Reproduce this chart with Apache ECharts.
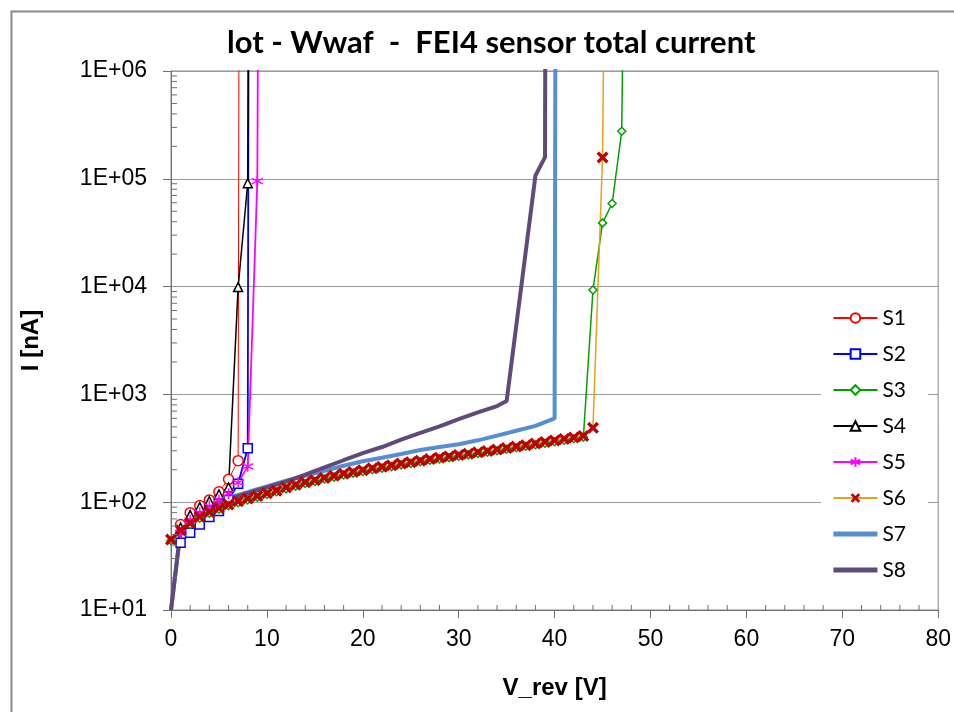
<!DOCTYPE html>
<html>
<head>
<meta charset="utf-8">
<title>FEI4 sensor total current</title>
<script src="https://cdn.jsdelivr.net/npm/echarts@6/dist/echarts.min.js"></script>
<style>
  html, body { margin: 0; padding: 0; background: #fff; }
  #chart { width: 954px; height: 712px; }
</style>
</head>
<body>
<div id="chart"></div>
<script>
// [V_rev (V), I (nA)]; values above 1E+06 are breakdown, clipped by the axis
const s1 = [[1, 62], [2, 80], [3, 93], [4, 105], [5, 125], [6, 163], [7, 243], [7.1, 1e7]];
const s2 = [[1, 42], [2, 52], [3, 62], [4, 73], [5, 83], [6, 105], [7, 148], [8, 316], [8.1, 1e7]];
const s3 = [[0, 44], [1, 53], [2, 62], [3, 71], [4, 79], [5, 86], [6, 93], [7, 99], [8, 105], [9, 111],
  [10, 118], [11, 125], [12, 133], [13, 141], [14, 149], [15, 156], [16, 164], [17, 171], [18, 179], [19, 186],
  [20, 193], [21, 200], [22, 207], [23, 214], [24, 222], [25, 229], [26, 237], [27, 245], [28, 252], [29, 259],
  [30, 267], [31, 275], [32, 283], [33, 291], [34, 300], [35, 310], [36, 320], [37, 330], [38, 341], [39, 352],
  [40, 364], [41, 376], [42, 388], [43, 402], [44, 9300], [45, 39000], [46, 59000], [47, 276000], [47.2, 1e7]];
const s4 = [[1, 58], [2, 76], [3, 90], [4, 102], [5, 118], [6, 137], [7, 9900], [8, 91000], [8.1, 1e7]];
const s5 = [[1, 52], [2, 68], [3, 80], [4, 92], [5, 105], [6, 120], [7, 152], [8, 215], [9, 95000], [9.1, 1e7]];
const s6 = [[0, 45], [1, 55], [2, 64], [3, 73], [4, 81], [5, 88], [6, 95], [7, 102], [8, 108], [9, 114],
  [10, 121], [11, 128], [12, 137], [13, 145], [14, 153], [15, 160], [16, 168], [17, 176], [18, 184], [19, 191],
  [20, 198], [21, 206], [22, 213], [23, 220], [24, 228], [25, 235], [26, 243], [27, 251], [28, 259], [29, 266],
  [30, 274], [31, 282], [32, 290], [33, 298], [34, 308], [35, 318], [36, 328], [37, 338], [38, 350], [39, 362],
  [40, 374], [41, 386], [42, 398], [43, 412], [44, 490], [45, 158000], [45.2, 1e7]];
const s7 = [[0, 10], [1, 55], [2, 70], [3, 82], [4, 92], [5, 101], [6, 109], [7, 117], [8, 124], [9, 132],
  [10, 140], [12, 158], [14, 176], [16, 196], [18, 218], [20, 240], [22, 258], [24, 280], [26, 305], [28, 325],
  [30, 345], [32, 375], [34, 415], [36, 460], [38, 510], [40, 600], [40.1, 1e7]];
const s8 = [[0, 10], [1, 55], [2, 70], [3, 82], [4, 91], [5, 99], [6, 107], [7, 114], [8, 121], [9, 129],
  [10, 137], [12, 155], [14, 180], [16, 210], [18, 245], [20, 285], [22, 325], [24, 380], [26, 440], [28, 505],
  [30, 590], [32, 680], [34, 780], [35, 870], [38, 107000], [39, 159000], [39.05, 1e7]];

const seriesNames = ["S1", "S2", "S3", "S4", "S5", "S6", "S7", "S8"];
const xTicks = [0, 10, 20, 30, 40, 50, 60, 70, 80];
const yTickLabels = ["1E+01", "1E+02", "1E+03", "1E+04", "1E+05", "1E+06"];
const xMinor = [2, 4, 6, 8, 12, 14, 16, 18, 22, 24, 26, 28, 32, 34, 36, 38, 42, 44, 46, 48,
  52, 54, 56, 58, 62, 64, 66, 68, 72, 74, 76, 78];
const yMinor = [20, 30, 40, 50, 60, 70, 80, 90, 200, 300, 400, 500, 600, 700, 800, 900,
  2000, 3000, 4000, 5000, 6000, 7000, 8000, 9000, 2e4, 3e4, 4e4, 5e4, 6e4, 7e4, 8e4, 9e4,
  2e5, 3e5, 4e5, 5e5, 6e5, 7e5, 8e5, 9e5];

const AXIS = "#707070";
const starPath = "path://M5,0L5,10M0.67,2.5L9.33,7.5M0.67,7.5L9.33,2.5";
const crossPath = "path://M0,2L2,0L5,3L8,0L10,2L7,5L10,8L8,10L5,7L2,10L0,8L3,5Z";

function marked(name, data, color, symbol, size, width) {
  return {
    name: name, type: "line", data: data,
    symbol: symbol, symbolSize: size, showAllSymbol: true,
    lineStyle: { color: color, width: width },
    itemStyle: { color: "#fff", borderColor: color, borderWidth: 1.5 },
    emphasis: { disabled: true },
  };
}

function thick(name, data, color) {
  return {
    name: name, type: "line", data: data,
    symbol: "circle", symbolSize: 0, showSymbol: false,
    lineStyle: { color: color, width: 4 },
    itemStyle: { color: color, opacity: 0 },
    emphasis: { disabled: true },
  };
}

const legendItems = seriesNames.map((n) =>
  n === "S7" || n === "S8"
    ? { name: n, itemStyle: { opacity: 0 }, lineStyle: { width: 5 } }
    : { name: n });

const chart = echarts.init(document.getElementById("chart"));
chart.setOption({
  animation: false,
  backgroundColor: "#fff",
  graphic: [{
    type: "rect", left: 9, top: 9, z: -10,
    shape: { width: 960, height: 720 },
    style: { fill: "none", stroke: "#8a8a8a", lineWidth: 2 },
  }],
  title: {
    text: "lot - Wwaf  -  FEI4 sensor total current",
    left: 222, top: 22,
    textStyle: { fontFamily: "Lato", fontWeight: "bold", fontSize: 31, color: "#000" },
  },
  legend: {
    data: legendItems,
    orient: "vertical",
    right: 26, top: 297,
    padding: [10, 22, 10, 10],
    backgroundColor: "#fff",
    itemWidth: 44, itemHeight: 12, itemGap: 14,
    textStyle: { fontFamily: "Lato", fontSize: 21, color: "#000", lineHeight: 22 },
  },
  grid: {
    left: 171, right: 12, top: 71, bottom: 102,
    show: true, borderColor: "#8a8a8a", borderWidth: 1,
  },
  xAxis: {
    type: "value", min: 0, max: 80, interval: 10,
    name: "V_rev [V]", nameLocation: "middle", nameGap: 66,
    nameTextStyle: { fontFamily: "Liberation Sans", fontWeight: "bold", fontSize: 24, color: "#000" },
    axisLine: { lineStyle: { color: AXIS } },
    axisTick: { length: 8, lineStyle: { color: AXIS } },
    axisLabel: {
      margin: 18, fontFamily: "Liberation Sans", fontSize: 23, color: "#000",
      formatter: (v) => String(xTicks[xTicks.indexOf(v)]),
    },
    splitLine: { show: false },
  },
  yAxis: {
    type: "log", logBase: 10, min: 10, max: 1e6,
    name: "I [nA]", nameLocation: "middle", nameGap: 128,
    nameTextStyle: { fontFamily: "Liberation Sans", fontWeight: "bold", fontSize: 24, color: "#000" },
    axisLine: { show: true, lineStyle: { color: AXIS } },
    axisTick: { show: true, length: 8, lineStyle: { color: AXIS } },
    axisLabel: {
      margin: 24, fontFamily: "Liberation Sans", fontSize: 23, color: "#000",
      formatter: (v) => yTickLabels[Math.round(Math.log10(v)) - 1],
    },
    splitLine: { show: true, lineStyle: { color: "#9a9a9a", width: 1 } },
  },
  series: [
    marked("S1", s1, "#FF0000", "circle", 10, 1),
    marked("S2", s2, "#0000FF", "rect", 9, 1.8),
    marked("S3", s3, "#00A000", "diamond", 8, 1.5),
    marked("S4", s4, "#000000", "triangle", 9, 1.5),
    marked("S5", s5, "#FF00FF", starPath, 11, 1.8),
    {
      name: "S6", type: "line", data: s6,
      symbol: crossPath, symbolSize: 12, showAllSymbol: true,
      lineStyle: { color: "#E3A21A", width: 1.5 },
      itemStyle: { color: "#C00000" },
      emphasis: { disabled: true },
    },
    thick("S7", s7, "#558ED5"),
    thick("S8", s8, "#604A7B"),
    {
      // minor ticks: inside, drawn through the axes' own scales
      type: "custom", z: 5, silent: true, clip: false,
      data: xMinor.map((v) => [v, 10, 1]).concat(yMinor.map((v) => [0, v, 0])),
      encode: { x: 0, y: 1 },
      renderItem: (params, api) => {
        const p = api.coord([api.value(0), api.value(1)]);
        const isX = api.value(2) === 1;
        return {
          type: "line",
          shape: isX
            ? { x1: p[0], y1: p[1], x2: p[0], y2: p[1] - 5 }
            : { x1: p[0], y1: p[1], x2: p[0] + 6, y2: p[1] },
          style: { stroke: AXIS, lineWidth: 1 },
        };
      },
    },
  ],
});
</script>
</body>
</html>
